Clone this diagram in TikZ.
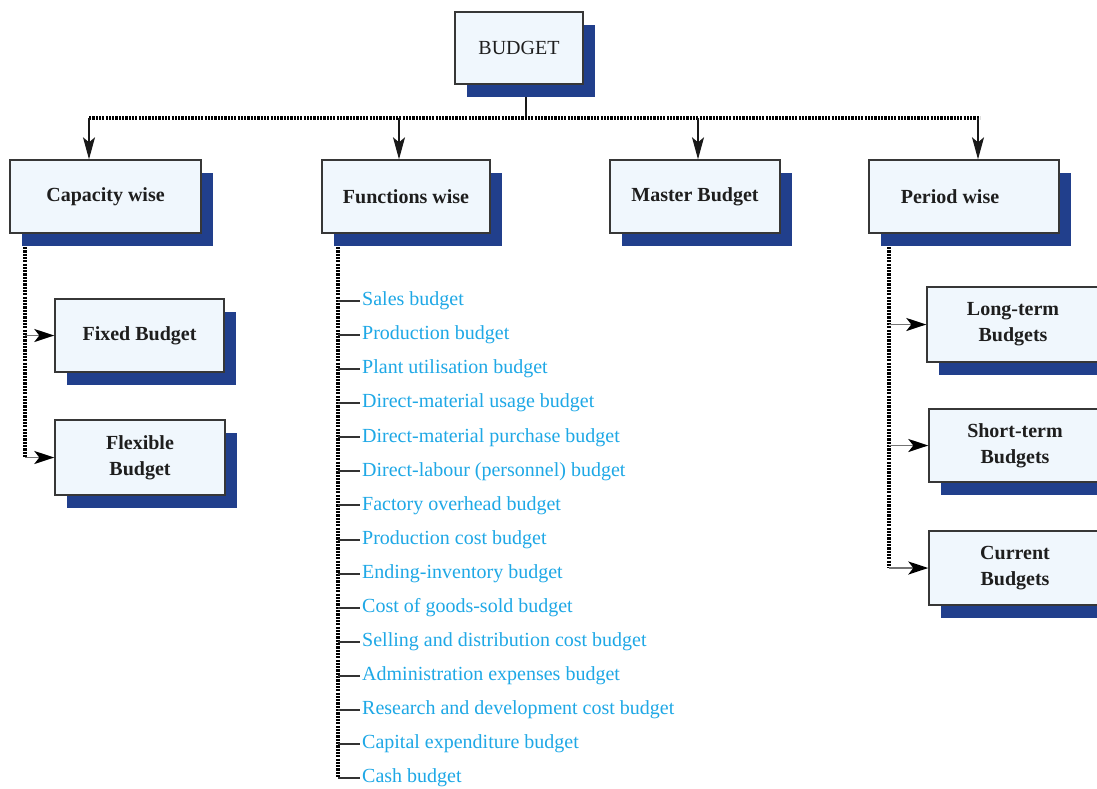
\documentclass[tikz,border=0pt]{standalone}
\usepackage{fontspec}
\setmainfont{Liberation Serif}
\usepackage{tikz}
\usetikzlibrary{arrows.meta,shadows,backgrounds,positioning}
\definecolor{boxfill}{RGB}{240,247,253}
\definecolor{shadowblue}{RGB}{33,63,140}
\definecolor{itemblue}{RGB}{30,168,230}
\definecolor{boxline}{RGB}{55,55,55}
\definecolor{headtext}{RGB}{30,30,30}

\tikzset{
  budgetbox/.style={draw=boxline, line width=1.4pt, fill=boxfill,
    font=\bfseries\fontsize{20}{26}\selectfont, text=headtext,
    align=center, inner sep=0pt,
    drop shadow={shadow xshift=12pt, shadow yshift=-13pt,
      fill=shadowblue, opacity=1}},
  dotline/.style={line width=3.6pt, dash pattern=on 2.2pt off 1.1pt, black},
  trunkline/.style={line width=1.6pt, black!90},
  downarrow/.style={-{Stealth[length=22pt,width=12pt,inset=5pt]}, line width=1.3pt, black!90},
  sidearrow/.style={-{Stealth[length=20pt,width=13pt,inset=5pt,black]}, line width=1.8pt, black!55},
  ticklink/.style={line width=2pt, black!80},
  itemtext/.style={font=\fontsize{20}{24}\selectfont, text=itemblue,
    anchor=west, inner sep=2pt},
}

\begin{document}
\begin{tikzpicture}[x=1pt, y=-1pt]
  \useasboundingbox (0,0) rectangle (1097,788);
  % ── Top of the tree ──
  \node[budgetbox, font=\mdseries\fontsize{20}{26}\selectfont,
    minimum width=128pt, minimum height=72pt] (budget) at (519,48) {BUDGET};
  %
  % ── Second row ──
  \node[budgetbox, minimum width=191pt, minimum height=73pt] (capacity) at (105.5,196.5) {Capacity wise};
  \node[budgetbox, minimum width=168pt, minimum height=73pt] (functions) at (406,196.5) {Functions wise};
  \node[budgetbox, minimum width=170pt, minimum height=73pt] (master) at (695,196.5) {Master Budget};
  \node[budgetbox, minimum width=190pt, minimum height=73pt] (period) at (964,196.5) {Period wise\hspace*{28pt}};
  %
  % ── Capacity wise children ──
  \node[budgetbox, minimum width=169pt, minimum height=73pt] (fixed) at (139.5,335.5) {Fixed Budget};
  \node[budgetbox, minimum width=170pt, minimum height=75pt] (flexible) at (140,457.5) {Flexible\\Budget};
  %
  % ── Period wise children ──
  \node[budgetbox, minimum width=172pt, minimum height=75pt] (longterm) at (1013,324.5) {Long-term\\Budgets};
  \node[budgetbox, minimum width=172pt, minimum height=73pt] (shortterm) at (1015,445.5) {Short-term\\Budgets};
  \node[budgetbox, minimum width=172pt, minimum height=74pt] (current) at (1015,568) {Current\\Budgets};
  %
  % ── Functions wise list ──
  \foreach \txt [count=\i] in {Sales budget, Production budget,
      Plant utilisation budget, Direct-material usage budget,
      Direct-material purchase budget, Direct-labour (personnel) budget,
      Factory overhead budget, Production cost budget,
      Ending-inventory budget, Cost of goods-sold budget,
      Selling and distribution cost budget, Administration expenses budget,
      Research and development cost budget, Capital expenditure budget,
      Cash budget}
    \node[itemtext] (item\i) at (360,{301+(\i-1)*34.07}) {\txt};
  %
  % ── Connectors ──
  \coordinate (trunk) at (526,118);
  \coordinate (rowleft) at (89,118);
  \coordinate (rowright) at (980,118);
  \coordinate (d2) at (399,118);
  \coordinate (d3) at (698,118);
  \coordinate (d4) at (978,118);
  \coordinate (captop) at (25,247);
  \coordinate (funtop) at (338,247);
  \coordinate (pertop) at (889,247);
  \begin{scope}[on background layer]
    \fill[white] (0,0) rectangle (1097,788);
    \draw[trunkline] (budget.south -| trunk) -- (trunk);
    \draw[dotline] (rowleft) -- (rowright);
    \draw[dotline] (captop) -- (captop |- flexible.west);
    \draw[dotline] (funtop) -- (funtop |- item15.west);
    \draw[dotline] (pertop) -- (pertop |- current.west);
  \end{scope}
  % down arrows from the dotted row
  \draw[downarrow] (rowleft) -- (rowleft |- capacity.north);
  \draw[downarrow] (d2) -- (d2 |- functions.north);
  \draw[downarrow] (d3) -- (d3 |- master.north);
  \draw[downarrow] (d4) -- (d4 |- period.north);
  % side arrows
  \draw[sidearrow] (captop |- fixed.west) -- (fixed.west);
  \draw[sidearrow] (captop |- flexible.west) -- (flexible.west);
  \draw[sidearrow] (pertop |- longterm.west) -- (longterm.west);
  \draw[sidearrow] (pertop |- shortterm.west) -- (shortterm.west);
  \draw[sidearrow] (pertop |- current.west) -- (current.west);
  % list ticks
  \foreach \i in {1,...,15}
    \draw[ticklink] (funtop |- item\i.west) -- (item\i.west);
\end{tikzpicture}
\end{document}
